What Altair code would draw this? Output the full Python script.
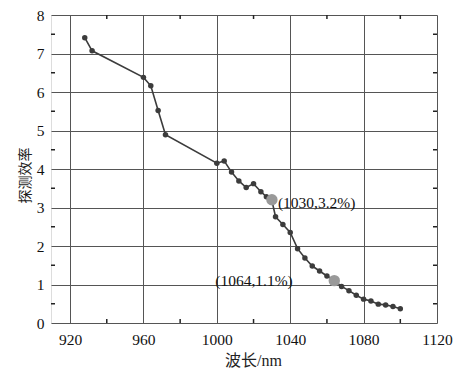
import altair as alt
import pandas as pd

wavelength = [928, 932, 960, 964, 968, 972, 1000, 1004, 1008, 1012, 1016, 1020, 1024, 1027,
              1030, 1032, 1036, 1040, 1044, 1048, 1052, 1056, 1060, 1064, 1068, 1072, 1076,
              1080, 1084, 1088, 1092, 1096, 1100]
efficiency = [7.41, 7.07, 6.38, 6.16, 5.52, 4.89, 4.15, 4.21, 3.92, 3.69, 3.52, 3.62, 3.41, 3.28,
              3.18, 2.76, 2.56, 2.35, 1.93, 1.69, 1.48, 1.35, 1.22, 1.10, 0.95, 0.84, 0.72,
              0.62, 0.57, 0.49, 0.47, 0.43, 0.37]
hl_x = [1030, 1064]
hl_y = [3.2, 1.1]
hl_text = ["(1030,3.2%)", "(1064,1.1%)"]
x_ticks = [920, 960, 1000, 1040, 1080, 1120]
y_ticks = [0, 1, 2, 3, 4, 5, 6, 7, 8]
x_minor = [940, 980, 1020, 1060, 1100]
y_minor = [0.5, 1.5, 2.5, 3.5, 4.5, 5.5, 6.5, 7.5]

W, H = 386, 308
SERIF = "Liberation Serif"
MIXED = "Liberation Serif, Noto Sans CJK SC"

df = pd.DataFrame({"x": wavelength, "y": efficiency})
hl = pd.DataFrame({"x": hl_x, "y": hl_y, "t": hl_text})
xm = pd.DataFrame({"x": x_minor})
ym = pd.DataFrame({"y": y_minor})

xs = alt.Scale(domain=[909.6, 1120], nice=False, zero=False)
ys = alt.Scale(domain=[0, 8], nice=False)

xaxis = alt.Axis(values=x_ticks, format="d", grid=True, gridColor="#555555", gridWidth=1,
                 ticks=False, tickSize=0, domain=False, labelFont=SERIF, labelFontSize=15.5,
                 labelColor="#111111", labelPadding=9, labelOverlap=False, labelFlush=False,
                 title="波长/nm", titleFont=MIXED, titleFontSize=16, titleFontWeight="normal",
                 titleColor="#222222", titleX=202, titleY=37, titleBaseline="middle")
yaxis = alt.Axis(values=y_ticks, format="d", grid=True, gridColor="#555555", gridWidth=1,
                 ticks=False, tickSize=0, domain=False, labelFont=SERIF, labelFontSize=15.5,
                 labelColor="#111111", labelPadding=7, labelOverlap=False, labelFlush=False,
                 title="探测效率", titleFont=MIXED, titleFontSize=14, titleFontWeight="normal",
                 titleColor="#222222", titleX=-25.5, titleY=160, titleBaseline="middle")

X = alt.X("x:Q", scale=xs, axis=xaxis)
Y = alt.Y("y:Q", scale=ys, axis=yaxis)

line = alt.Chart(df).mark_line(color="#3c3c3c", strokeWidth=1.6).encode(x=X, y=Y)
pts = alt.Chart(df).mark_point(filled=True, color="#3c3c3c", size=30, opacity=1).encode(x=X, y=Y)
big = alt.Chart(hl).mark_point(filled=True, color="#999999", size=130, opacity=1).encode(x=X, y=Y)

t1 = alt.Chart(hl.iloc[[0]]).mark_text(font=SERIF, fontSize=15.5, align="left", baseline="middle",
                                       dx=6, dy=3.5, color="#111111").encode(x=X, y=Y, text="t:N")
t2 = alt.Chart(hl.iloc[[1]]).mark_text(font=SERIF, fontSize=15.5, align="right", baseline="middle",
                                       dx=-41.5, dy=0, color="#111111").encode(x=X, y=Y, text="t:N")

tick_col = "#222222"
bot = alt.Chart(xm).mark_rule(color=tick_col, strokeWidth=1.5).encode(
    x=X, y=alt.value(H - 4), y2=alt.value(H))
top = alt.Chart(xm).mark_rule(color=tick_col, strokeWidth=1.5).encode(
    x=X, y=alt.value(0), y2=alt.value(4))
left = alt.Chart(ym).mark_rule(color=tick_col, strokeWidth=1.5).encode(
    y=Y, x=alt.value(0), x2=alt.value(4))
right = alt.Chart(ym).mark_rule(color=tick_col, strokeWidth=1.5).encode(
    y=Y, x=alt.value(W - 4), x2=alt.value(W))

chart = alt.layer(line, bot, top, left, right, pts, big, t1, t2).properties(
    width=W, height=H,
    autosize=alt.AutoSizeParams(type="none"),
    padding={"left": 43, "top": 7, "right": 27, "bottom": 48},
).configure_view(stroke="#111111", strokeWidth=1.6).configure(background="white")

chart.save("out.html", embed_options={"renderer": "svg", "actions": False})
